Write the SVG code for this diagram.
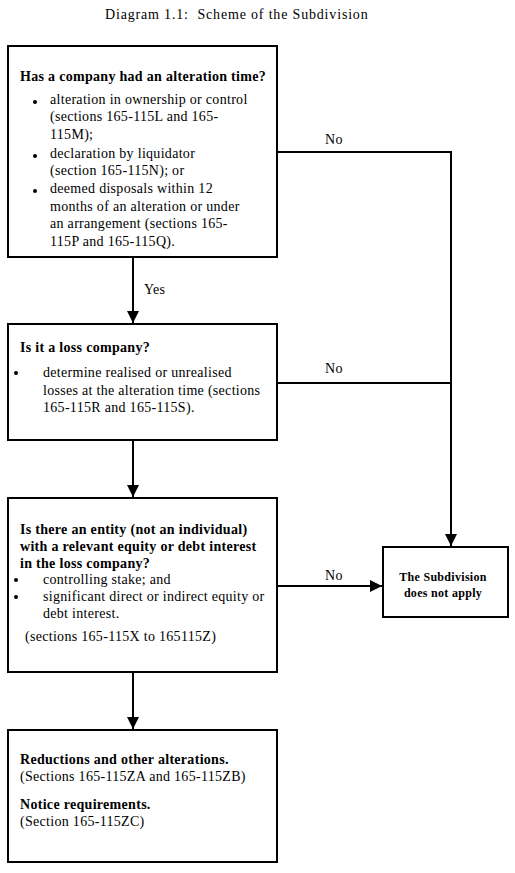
<svg xmlns="http://www.w3.org/2000/svg" width="515" height="873" viewBox="0 0 515 873">
<style>
text{font-family:"Liberation Serif","Times New Roman",serif;font-size:14px;letter-spacing:0.3px;fill:#000}
.b{font-weight:bold;letter-spacing:0.3px}
.s{font-size:12px;font-weight:bold;letter-spacing:0.3px}
.box{fill:#fff;stroke:#000;stroke-width:2}
.ln{fill:none;stroke:#000;stroke-width:2}
</style>
<defs>
<marker id="ah" viewBox="0 0 12 12" refX="12" refY="6" markerWidth="12" markerHeight="12" markerUnits="userSpaceOnUse" orient="auto">
<path d="M0,0 L12,6 L0,12 Z" fill="#000"/>
</marker>
</defs>
<rect width="515" height="873" fill="#fff"/>
<text x="105" y="19" textLength="263" lengthAdjust="spacing">Diagram 1.1:&#160; Scheme of the Subdivision</text>
<g id="connectors">
<line class="ln" x1="133" y1="257" x2="133" y2="323" marker-end="url(#ah)"/>
<text x="144" y="294">Yes</text>
<line class="ln" x1="133" y1="440" x2="133" y2="497" marker-end="url(#ah)"/>
<line class="ln" x1="133" y1="672" x2="133" y2="729" marker-end="url(#ah)"/>
<polyline class="ln" points="277,152 451,152 451,546" marker-end="url(#ah)"/>
<line class="ln" x1="277" y1="383" x2="451" y2="383"/>
<line class="ln" x1="277" y1="586" x2="382" y2="586" marker-end="url(#ah)"/>
<text x="325" y="144">No</text>
<text x="325" y="373">No</text>
<text x="325" y="580">No</text>
</g>
<g id="n1">
<rect class="box" x="8" y="46" width="269" height="211"/>
<text class="b" x="20" y="81">Has a company had an alteration time?</text>
<circle cx="35" cy="102" r="2"/>
<text x="50" y="104">alteration in ownership or control</text>
<text x="50" y="121">(sections 165-115L and 165-</text>
<text x="50" y="139">115M);</text>
<circle cx="35" cy="156" r="2"/>
<text x="50" y="158">declaration by liquidator</text>
<text x="50" y="175">(section 165-115N); or</text>
<circle cx="35" cy="191" r="2"/>
<text x="50" y="193">deemed disposals within 12</text>
<text x="50" y="211">months of an alteration or under</text>
<text x="50" y="228">an arrangement (sections 165-</text>
<text x="50" y="246">115P and 165-115Q).</text>
</g>
<g id="n2">
<rect class="box" x="8" y="324" width="269" height="116"/>
<text class="b" x="20" y="352">Is it a loss company?</text>
<circle cx="16" cy="373" r="2"/>
<text x="43" y="377">determine realised or unrealised</text>
<text x="43" y="395">losses at the alteration time (sections</text>
<text x="43" y="412">165-115R and 165-115S).</text>
</g>
<g id="n3">
<rect class="box" x="8" y="498" width="269" height="174"/>
<text class="b" x="20" y="534">Is there an entity (not an individual)</text>
<text class="b" x="20" y="551">with a relevant equity or debt interest</text>
<text class="b" x="20" y="568">in the loss company?</text>
<circle cx="16" cy="580" r="2"/>
<text x="43" y="584">controlling stake; and</text>
<circle cx="16" cy="597" r="2"/>
<text x="43" y="601">significant direct or indirect equity or</text>
<text x="43" y="618">debt interest.</text>
<text x="25" y="641">(sections 165-115X to 165115Z)</text>
</g>
<g id="n4">
<rect class="box" x="8" y="730" width="269" height="132"/>
<text class="b" x="20" y="764">Reductions and other alterations.</text>
<text x="20" y="781">(Sections 165-115ZA and 165-115ZB)</text>
<text class="b" x="20" y="809">Notice requirements.</text>
<text x="20" y="826">(Section 165-115ZC)</text>
</g>
<g id="n5">
<rect class="box" x="383" y="547" width="125" height="70"/>
<text class="s" x="443" y="581" text-anchor="middle">The Subdivision</text>
<text class="s" x="443" y="597" text-anchor="middle">does not apply</text>
</g>
</svg>
